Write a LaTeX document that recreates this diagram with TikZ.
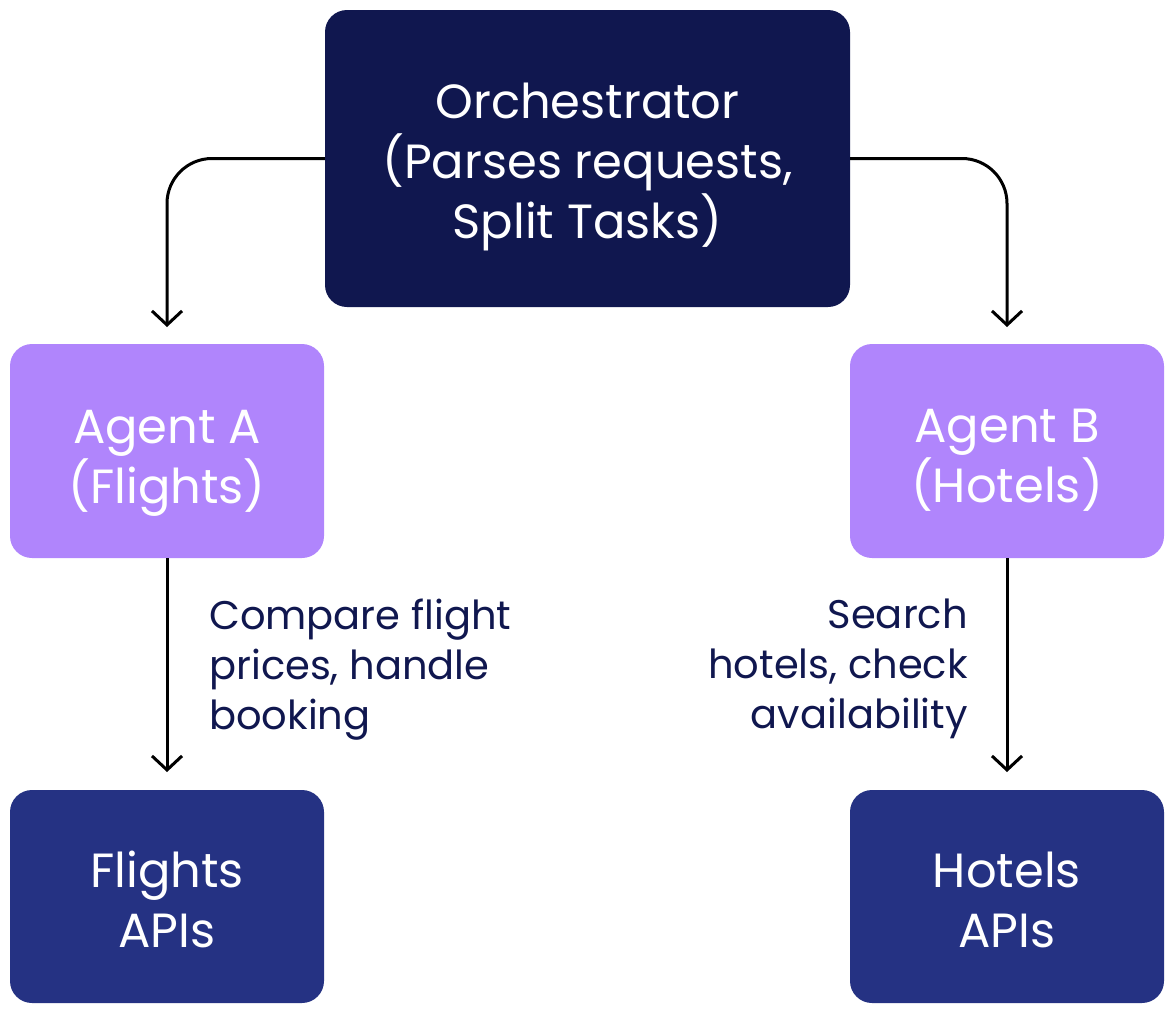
\documentclass[tikz,border=0pt]{standalone}
\usepackage{fontspec}
\setmainfont{Poppins}
\usetikzlibrary{arrows.meta}
\definecolor{navy}{HTML}{10174F}
\definecolor{purp}{HTML}{B085FC}
\definecolor{apiblue}{HTML}{253283}
\tikzset{
  box/.style={rounded corners=22pt, inner sep=0pt},
  boxtext/.style={inner sep=0pt, text=white, align=center, font=\fontsize{48}{60}\selectfont},
  conn/.style={line width=3pt, -{Straight Barb[length=14pt,width=30pt,line width=3pt]}, rounded corners=45pt},
  lbl/.style={text=navy, font=\fontsize{40}{50}\selectfont, inner sep=0pt}
}
\begin{document}
\begin{tikzpicture}[x=1pt,y=-1pt]
\useasboundingbox (0,0) rectangle (1172,1013);
\node[box, fill=navy, minimum width=525pt, minimum height=297pt] (orch) at (587.5,158.5) {};
\node[box, fill=purp, minimum width=314pt, minimum height=214pt] (agA) at (167,451) {};
\node[box, fill=purp, minimum width=314pt, minimum height=214pt] (agB) at (1007,451) {};
\node[box, fill=apiblue, minimum width=314pt, minimum height=213pt] (apiA) at (167,896.5) {};
\node[box, fill=apiblue, minimum width=314pt, minimum height=213pt] (apiB) at (1007,896.5) {};
\node[boxtext] (orchT) at ([yshift=-8pt]orch.center) {Orchestrator\\(Parses requests,\\Split Tasks)};
\node[boxtext] (agAT) at ([yshift=-12pt]agA.center) {Agent A\\(Flights)};
\node[boxtext] (agBT) at ([yshift=-9pt]agB.center) {Agent B\\(Hotels)};
\node[boxtext] (apiAT) at ([yshift=-3pt]apiA.center) {Flights\\APIs};
\node[boxtext] (apiBT) at ([yshift=-3pt]apiB.center) {Hotels\\APIs};
\coordinate (tA) at (167,327);
\coordinate (tB) at (1007,327);
\coordinate (tC) at (167,772);
\coordinate (tD) at (1007,772);
\draw[conn] (orch.west) -| (tA);
\draw[conn] (orch.east) -| (tB);
\draw[conn] (agA.south) -- (tC);
\draw[conn] (agB.south) -- (tD);
\node[lbl, anchor=north west, align=left] (lA) at (209,599) {Compare flight\\prices, handle\\booking};
\node[lbl, anchor=north east, align=right] (lB) at (968,599) {Search\\hotels, check\\availability};
\end{tikzpicture}
\end{document}
